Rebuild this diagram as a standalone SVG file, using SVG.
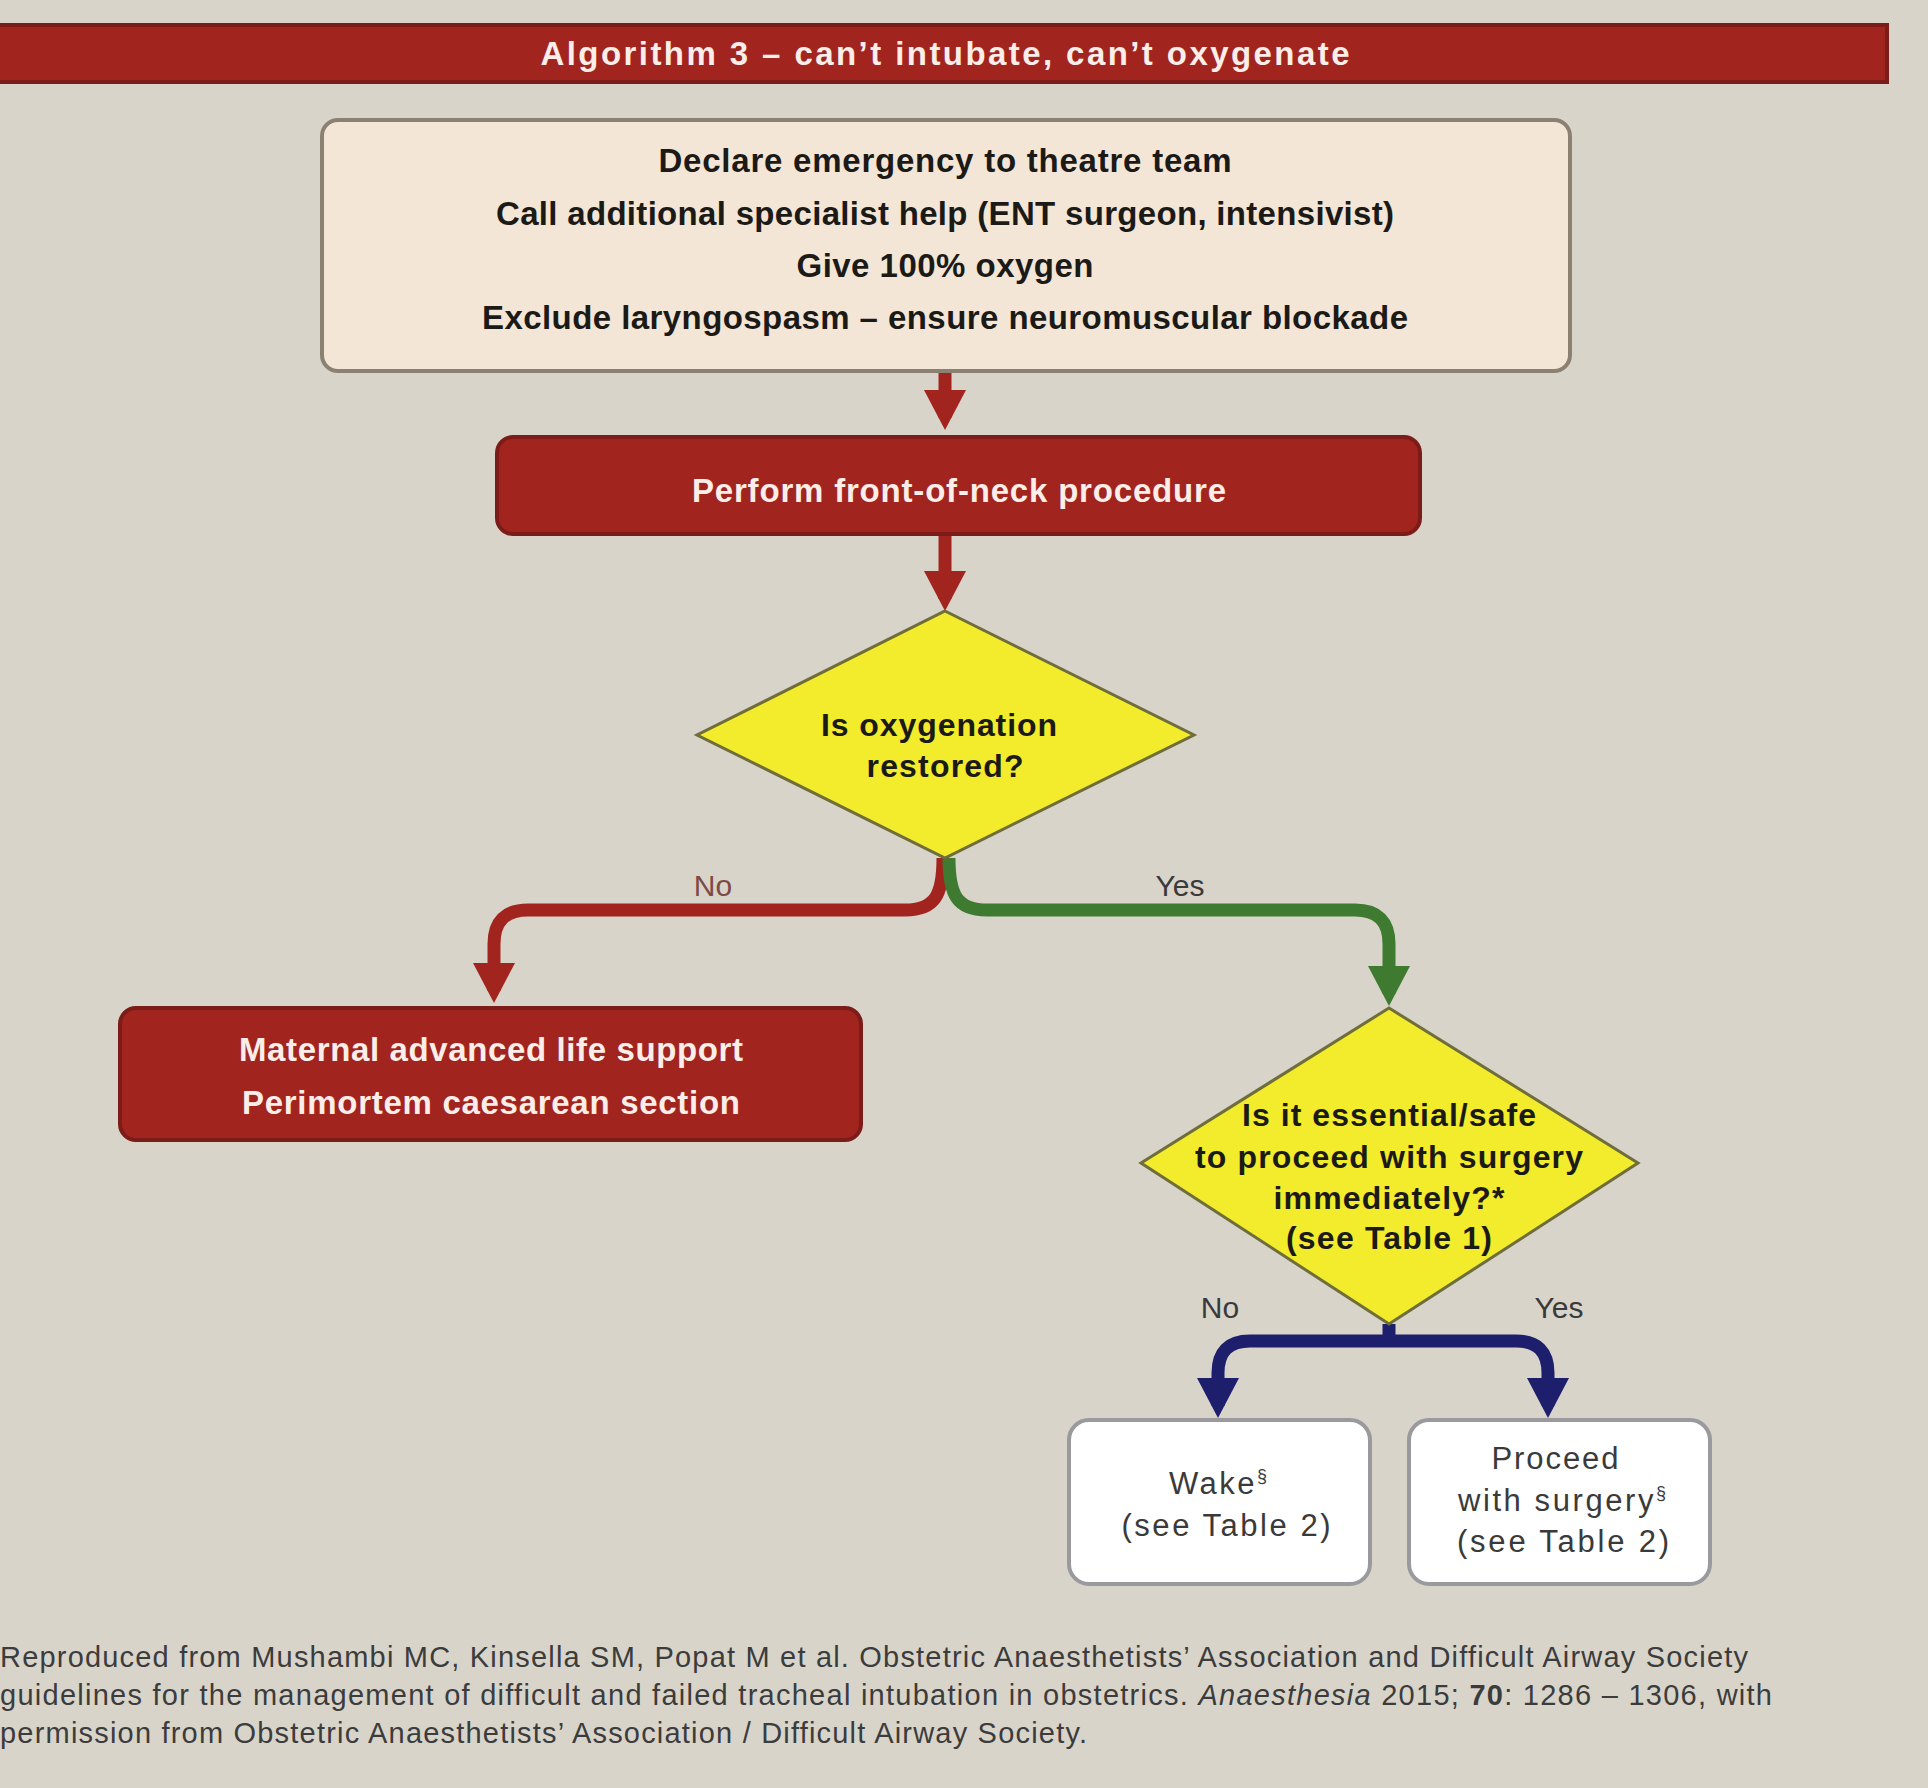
<svg xmlns="http://www.w3.org/2000/svg" width="1928" height="1788" viewBox="0 0 1928 1788">
<style>
.bg{fill:#d8d4ca}
.red{fill:#a2241f;stroke:#7c1c18;stroke-width:4}
.cream{fill:#f3e6d6;stroke:#8b8172;stroke-width:4}
.dia{fill:#f2ec2c;stroke:#6f6e3a;stroke-width:3}
.white{fill:#ffffff;stroke:#9a9a9e;stroke-width:4}
text{font-family:"Liberation Sans",Arial,sans-serif;text-anchor:middle}
.tb{font-weight:bold;font-size:33px;fill:#1c1a16}
.td{font-weight:bold;font-size:32px;fill:#1c1a16}
.tw{font-weight:bold;font-size:33px;fill:#fbeee9}
.tr{font-size:31px;fill:#3a3a3a}
.lab{font-size:30px;fill:#3a3a3a}
.foot{font-size:29px;fill:#3c3c3c;text-anchor:start}
.c{fill:none;stroke-width:13;stroke-linecap:butt}
</style>
<defs>
<marker id="ar" viewBox="0 0 40 42" refX="28" refY="21" markerWidth="40" markerHeight="42" orient="auto" markerUnits="userSpaceOnUse"><path d="M0,0 L40,21 L0,42 z" fill="#a2241f"/></marker>
<marker id="ag" viewBox="0 0 40 42" refX="28" refY="21" markerWidth="40" markerHeight="42" orient="auto" markerUnits="userSpaceOnUse"><path d="M0,0 L40,21 L0,42 z" fill="#3e7a30"/></marker>
<marker id="ab" viewBox="0 0 40 42" refX="28" refY="21" markerWidth="40" markerHeight="42" orient="auto" markerUnits="userSpaceOnUse"><path d="M0,0 L40,21 L0,42 z" fill="#1e1f6c"/></marker>
</defs>
<rect class="bg" x="0" y="0" width="1928" height="1788"/>

<g id="title">
<rect x="-4" y="25" width="1891" height="57" fill="#a2241f" stroke="#7c1c18" stroke-width="4"/>
<text class="tw" x="945" y="65" font-size="35" textLength="809">Algorithm 3 – can’t intubate, can’t oxygenate</text>
</g>

<g id="connectors">
<path class="c" stroke="#a2241f" d="M945,371 L945,418" marker-end="url(#ar)"/>
<path class="c" stroke="#a2241f" d="M945,534 L945,599" marker-end="url(#ar)"/>
<path class="c" stroke="#a2241f" d="M943,858 C943,895 935,910 905,910 L528,910 Q494,910 494,944 L494,991" marker-end="url(#ar)"/>
<path class="c" stroke="#3e7a30" d="M949,858 C949,895 957,910 987,910 L1355,910 Q1389,910 1389,944 L1389,994" marker-end="url(#ag)"/>
<path class="c" stroke="#1e1f6c" d="M1389,1324 L1389,1341"/>
<path class="c" stroke="#1e1f6c" d="M1389,1341 L1250,1341 Q1218,1341 1218,1373 L1218,1406" marker-end="url(#ab)"/>
<path class="c" stroke="#1e1f6c" d="M1389,1341 L1516,1341 Q1548,1341 1548,1373 L1548,1406" marker-end="url(#ab)"/>
<text class="lab" x="713" y="896" style="fill:#7e4a44">No</text>
<text class="lab" x="1180" y="896">Yes</text>
<text class="lab" x="1220" y="1318">No</text>
<text class="lab" x="1559" y="1318">Yes</text>
</g>

<g id="declare">
<rect class="cream" x="322" y="120" width="1248" height="251" rx="16"/>
<text class="tb" x="945" y="172" textLength="573">Declare emergency to theatre team</text>
<text class="tb" x="945" y="225" textLength="898">Call additional specialist help (ENT surgeon, intensivist)</text>
<text class="tb" x="945" y="277" textLength="297">Give 100% oxygen</text>
<text class="tb" x="945" y="329" textLength="926">Exclude laryngospasm – ensure neuromuscular blockade</text>
</g>

<g id="fon">
<rect class="red" x="497" y="437" width="923" height="97" rx="16"/>
<text class="tw" x="959" y="502" textLength="534">Perform front-of-neck procedure</text>
</g>

<g id="decision1">
<polygon class="dia" points="945,611 1194,735 945,858 697,735"/>
<text class="td" x="939" y="736" textLength="236">Is oxygenation</text>
<text class="td" x="945" y="777" textLength="157">restored?</text>
</g>

<g id="maternal">
<rect class="red" x="120" y="1008" width="741" height="132" rx="16"/>
<text class="tw" x="491" y="1061" textLength="504">Maternal advanced life support</text>
<text class="tw" x="491" y="1114" textLength="498">Perimortem caesarean section</text>
</g>

<g id="decision2">
<polygon class="dia" points="1389,1008 1638,1163 1389,1324 1141,1163"/>
<text class="td" x="1389" y="1126" textLength="294">Is it essential/safe</text>
<text class="td" x="1389" y="1168" textLength="388">to proceed with surgery</text>
<text class="td" x="1389" y="1209" textLength="231">immediately?*</text>
<text class="td" x="1389" y="1249" textLength="206">(see Table 1)</text>
</g>

<g id="wake">
<rect class="white" x="1069" y="1420" width="301" height="164" rx="20"/>
<text class="tr" x="1218" y="1494" textLength="98">Wake<tspan font-size="18" dy="-12">§</tspan></text>
<text class="tr" x="1226" y="1536" textLength="209">(see Table 2)</text>
</g>

<g id="proceed">
<rect class="white" x="1409" y="1420" width="301" height="164" rx="20"/>
<text class="tr" x="1555" y="1469" textLength="127">Proceed</text>
<text class="tr" x="1562" y="1511" textLength="208">with surgery<tspan font-size="18" dy="-12">§</tspan></text>
<text class="tr" x="1563" y="1552" textLength="212">(see Table 2)</text>
</g>

<g id="footer">
<text class="foot" x="0" y="1667" textLength="1748">Reproduced from Mushambi MC, Kinsella SM, Popat M et al. Obstetric Anaesthetists’ Association and Difficult Airway Society</text>
<text class="foot" x="0" y="1705" textLength="1772">guidelines for the management of difficult and failed tracheal intubation in obstetrics. <tspan font-style="italic">Anaesthesia</tspan> 2015; <tspan font-weight="bold">70</tspan>:  1286  –  1306,  with</text>
<text class="foot" x="0" y="1743" textLength="1087">permission from Obstetric Anaesthetists’ Association / Difficult Airway Society.</text>
</g>
</svg>
